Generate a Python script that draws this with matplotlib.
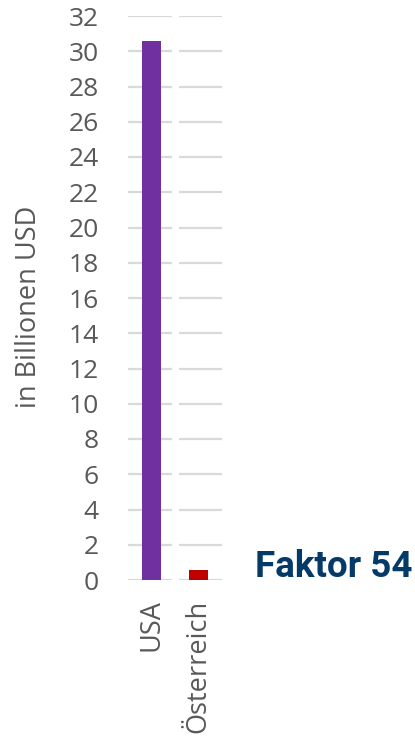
import matplotlib
matplotlib.use("Agg")
import matplotlib.pyplot as plt

categories = ["USA", "Österreich"]
values = [30.6, 0.57]
colors = ["#7030A0", "#C00000"]
yticks = list(range(0, 33, 2))
ylabel = "in Billionen USD"
annotation = "Faktor 54"

plt.rcParams['font.family'] = ['Open Sans', 'DejaVu Sans']

fig = plt.figure(figsize=(4.15, 7.4), dpi=100)
ax = fig.add_axes([128/415, 1-580/740, 94/415, 564/740])

x = list(range(len(categories)))
ax.bar(x, values, width=0.39, color=colors, zorder=3)

ax.set_xlim(-0.5, len(categories) - 0.5)
ax.set_ylim(0, 32)
ax.set_yticks(yticks)
ax.set_yticklabels([str(t) for t in yticks])
ax.set_xticks(x)
ax.set_xticklabels(categories, rotation=90)

ax.yaxis.grid(True, color="#D9D9D9", linewidth=1.6, zorder=0)
ax.set_axisbelow(True)
for i in range(len(categories) - 1):
    ax.axvline(i + 0.5, color="white", linewidth=5, zorder=1)

for s in ax.spines.values():
    s.set_visible(False)
ax.tick_params(axis='y', length=0, pad=21, labelsize=19, labelcolor="#595959")
ax.tick_params(axis='x', length=0, pad=14, labelsize=19.5, labelcolor="#595959")
for lbl in ax.get_xticklabels():
    lbl.set_verticalalignment('top')

fig.text(29/415, 1-307/740, ylabel, rotation=90, ha='center', va='center',
         fontsize=19.5, color="#595959")

fig.text(412/415, 1-567/740, annotation, ha='right', va='center',
         fontsize=26.5, fontweight='bold', color="#043A67", family=['Roboto', 'DejaVu Sans'])

fig.savefig("out.png", dpi=100)
